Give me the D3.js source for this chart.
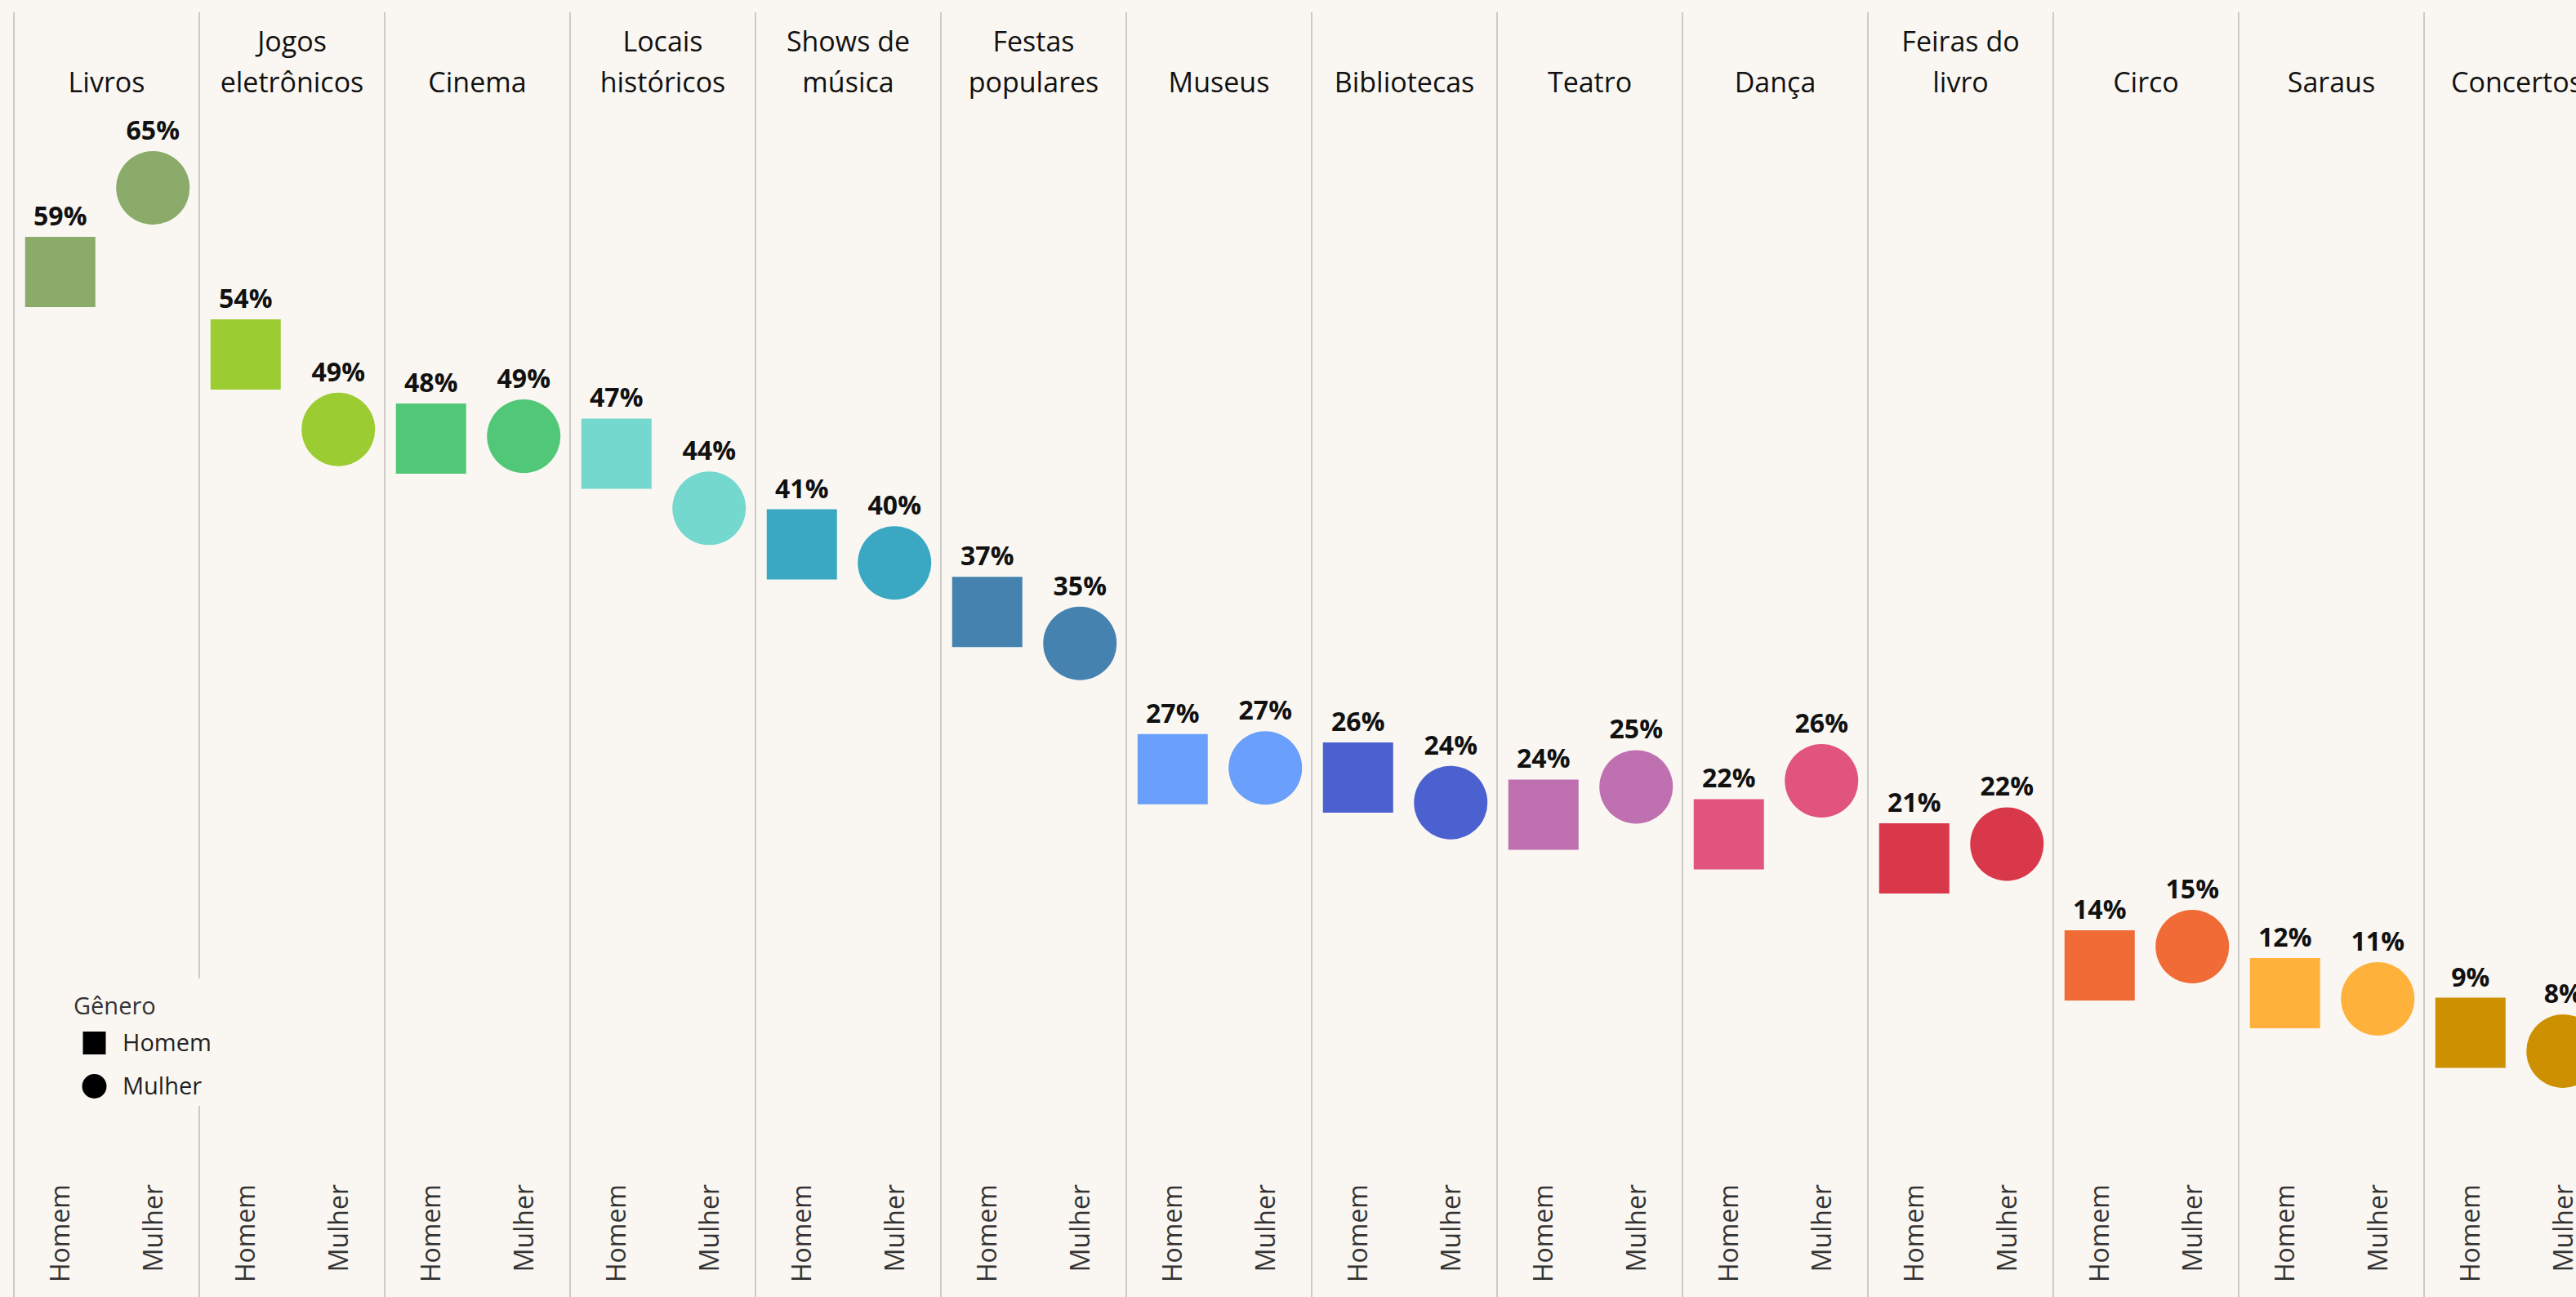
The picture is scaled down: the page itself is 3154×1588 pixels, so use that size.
<!DOCTYPE html>
<html>
<head>
<meta charset="utf-8">
<script src="https://cdn.jsdelivr.net/npm/d3@7"></script>
<style>
  html, body { margin: 0; padding: 0; background: #faf7f2; }
  svg { display: block; }
</style>
</head>
<body>
<div id="chart"></div>
<script>
// ---- data ----
const categories = ["Livros", "Jogos eletrônicos", "Cinema", "Locais históricos", "Shows de música",
  "Festas populares", "Museus", "Bibliotecas", "Teatro", "Dança", "Feiras do livro", "Circo", "Saraus", "Concertos"];
const headerLines = [["Livros"], ["Jogos", "eletrônicos"], ["Cinema"], ["Locais", "históricos"], ["Shows de", "música"],
  ["Festas", "populares"], ["Museus"], ["Bibliotecas"], ["Teatro"], ["Dança"], ["Feiras do", "livro"], ["Circo"], ["Saraus"], ["Concertos"]];
const genders = ["Homem", "Mulher"];
const homem  = [59.45, 54.0, 48.45, 47.45, 41.46, 37.0, 26.62, 26.06, 23.61, 22.32, 20.73, 13.66, 11.83, 9.21];
const mulher = [65.0, 49.05, 48.60, 43.84, 40.24, 34.92, 26.70, 24.41, 25.45, 25.85, 21.67, 14.90, 11.45, 8.0];
const colors = ["#8aab69", "#9bcd32", "#51c878", "#75d8cf", "#3aa8c2", "#4682b0", "#6a9ffb", "#4b61cf",
  "#bf70b0", "#e1547e", "#d9384a", "#f06b36", "#ffb23b", "#cc9000"];
const legendTitle = "Gênero";

// ---- layout ----
const W = 3154, H = 1588;
const left = 17, panelW = 227;
const bg = "#faf7f2";

const svg = d3.select("#chart").append("svg")
  .attr("width", W).attr("height", H)
  .style("background", bg);

const x = d3.scaleBand().domain(categories).range([left, left + panelW * categories.length]).padding(0);
const xg = d3.scalePoint().domain(genders).range([0, panelW]).padding(0.5);
const y = d3.scaleLinear().domain([0, 65]).range([1435.3, 230]);

const shapeOf = { Homem: d3.symbolSquare, Mulher: d3.symbolCircle };
const sizeOf = { Homem: 86 * 86, Mulher: Math.PI * 45 * 45 };
const halfOf = { Homem: 43, Mulher: 45 };

const data = [];
categories.forEach((c, i) => {
  data.push({ cat: c, g: "Homem", v: homem[i], color: colors[i] });
  data.push({ cat: c, g: "Mulher", v: mulher[i], color: colors[i] });
});

// panel separator lines
const bounds = d3.range(categories.length + 1).map(i => i === categories.length ? x.range()[1] : x(categories[i]));
svg.append("g").selectAll("line").data(bounds).join("line")
  .attr("x1", d => d).attr("x2", d => d)
  .attr("y1", 15).attr("y2", H)
  .attr("stroke", "#cdcbc8").attr("stroke-width", 2);

// header labels
const hdr = svg.append("g").attr("font-family", "'Open Sans', 'Noto Sans', sans-serif")
  .attr("font-size", 34).attr("fill", "#111").attr("text-anchor", "middle");
categories.forEach((c, i) => {
  const lines = headerLines[i];
  const cx = x(c) + x.bandwidth() / 2;
  lines.forEach((ln, j) => {
    hdr.append("text")
      .attr("x", cx)
      .attr("y", 112.7 - (lines.length - 1 - j) * 50)
      .text(ln);
  });
});

// marks
const marks = svg.append("g");
marks.selectAll("path").data(data).join("path")
  .attr("transform", d => `translate(${x(d.cat) + xg(d.g)},${y(d.v)})`)
  .attr("d", d => d3.symbol().type(shapeOf[d.g]).size(sizeOf[d.g])())
  .attr("fill", d => d.color);

// value labels
const fmt = d3.format(".0f");
svg.append("g").attr("font-family", "'Open Sans', 'Noto Sans', sans-serif")
  .attr("font-size", 32).attr("font-weight", 700).attr("fill", "#111").attr("text-anchor", "middle")
  .selectAll("text").data(data).join("text")
  .attr("x", d => x(d.cat) + xg(d.g))
  .attr("y", d => y(d.v) - halfOf[d.g] - 14)
  .text(d => fmt(d.v) + "%");

// bottom gender labels
const bottom = svg.append("g").attr("font-family", "'Open Sans', 'Noto Sans', sans-serif")
  .attr("font-size", 32).attr("fill", "#333").attr("text-anchor", "end");
categories.forEach(c => {
  genders.forEach(g => {
    bottom.append("text")
      .attr("transform", `translate(${x(c) + xg(g)},1450) rotate(-90)`)
      .attr("dy", "0.36em")
      .text(g);
  });
});

// legend
const lg = svg.append("g").attr("font-family", "'Open Sans', 'Noto Sans', sans-serif");
lg.append("rect").attr("x", 26).attr("y", 1198).attr("width", 236).attr("height", 156).attr("fill", bg);
lg.append("text").attr("x", 90).attr("y", 1241.5).attr("font-size", 29).attr("fill", "#333").text(legendTitle);
genders.forEach((g, i) => {
  const cy = 1277 + i * 53;
  lg.append("path")
    .attr("transform", `translate(115.5,${cy})`)
    .attr("d", d3.symbol().type(shapeOf[g]).size(g === "Homem" ? 28 * 28 : Math.PI * 15 * 15)())
    .attr("fill", "#000");
  lg.append("text").attr("x", 150).attr("y", cy).attr("dy", "0.36em")
    .attr("font-size", 29).attr("fill", "#222").text(g);
});
</script>
</body>
</html>
